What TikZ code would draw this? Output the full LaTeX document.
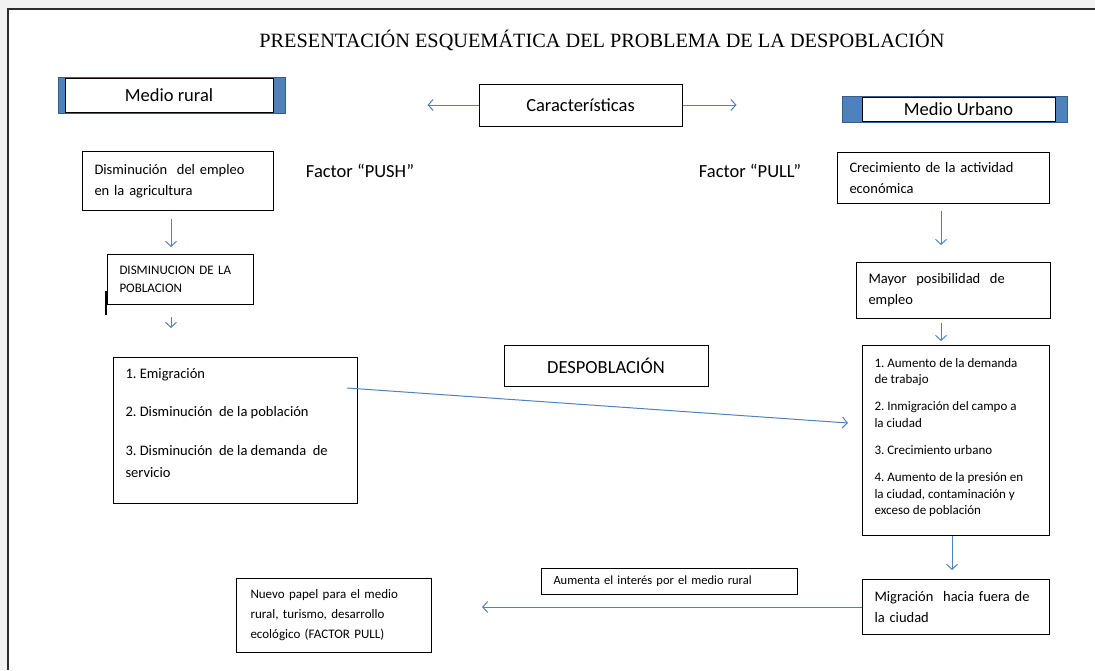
\documentclass[tikz,border=0pt]{standalone}
\usepackage{fontspec}
\setmainfont{Carlito}
\newfontfamily\titlefont{Liberation Serif}
\usetikzlibrary{arrows.meta,calc}
\definecolor{azul}{RGB}{79,129,189}
\definecolor{azulosc}{RGB}{56,93,138}
% Text block held at the top of a tall box
\newcommand{\bloquearriba}[3]{\parbox[t][#1][t]{#2}{\raggedright #3}}
\tikzset{
%Define standard arrow tip
>={Straight Barb[length=5pt,width=11pt]},
%Define style for boxes, texts and arrows
caja/.style={draw, line width=1pt, anchor=north west, align=left, inner xsep=12pt, inner ysep=3pt},
medio/.style={draw, line width=1pt, fill=white, inner sep=0pt, font=\fontsize{18.5}{22}\selectfont},
banda/.style={fill=azul, draw=azulosc, line width=1pt},
grande/.style={font=\fontsize{18.5}{22}\selectfont},
texto/.style={font=\fontsize{14.5}{21}\selectfont},
chico/.style={font=\fontsize{13}{18}\selectfont},
flecha/.style={->, azul, line width=1pt},
}

\begin{document}
\frenchspacing
\begin{tikzpicture}[x=1pt, y=-1pt]
\useasboundingbox (0,0) rectangle (1095,670);
% Draw window frame
\fill[gray!10] (0,0) rectangle (1095,8);
\fill[gray!10] (0,0) rectangle (8,670);
\draw[gray!35!black, line width=2pt] (8,670) -- (8,8.5) -- (1095,8.5);
% Title
\node (titulo) at (602,40) {\titlefont\fontsize{20.3}{24}\selectfont PRESENTACIÓN ESQUEMÁTICA DEL PROBLEMA DE LA DESPOBLACIÓN};
% Headers
\fill[banda] (58,77) rectangle (285,113);
\node[medio, minimum width=208, minimum height=34] (rural) at (169,95) {Medio rural};
\fill[banda] (842,96) rectangle (1067,122);
\node[medio, minimum width=193, minimum height=24] (urbano) at (958.5,109) {Medio Urbano};
\node[caja, grande, anchor=center, minimum width=203, minimum height=42] (carac) at (580.5,105) {Características};
\node[grande] (push) at (360,171) {Factor “PUSH”};
\node[grande] (pull) at (750,171) {Factor “PULL”};
% Rural column
\node[caja, texto, text width=167, minimum width=191, minimum height=59] (emp) at (82,151) {Disminución\ \ del empleo\\en la agricultura};
\node[caja, chico, text width=122, minimum width=146, minimum height=50] (dism) at (107,254) {DISMINUCION DE LA\\POBLACION};
\node[caja, font=\fontsize{14.5}{22}\selectfont, inner ysep=11pt, minimum width=244, minimum height=146] (emig) at (113,357) {\bloquearriba{124pt}{220pt}{1. Emigración\\[16.5pt]2. Disminución\ \ de la población\\[16.5pt]3. Disminución\ \ de la demanda\ \ de\\servicio}};
\node[caja, grande, anchor=center, minimum width=204, minimum height=41] (despo) at (606,365.5) {DESPOBLACIÓN};
% Urban column
\node[caja, texto, text width=188, minimum width=212, minimum height=51] (crec) at (837,152) {Crecimiento de la actividad\\económica};
\node[caja, texto, text width=170, minimum width=194, minimum height=56] (mayor) at (856,262) {Mayor\ \ posibilidad\ \ de\\empleo};
\node[caja, font=\fontsize{13}{16.5}\selectfont, inner ysep=12.5pt, minimum width=187, minimum height=190] (lista) at (862,345) {\bloquearriba{165pt}{163pt}{1. Aumento de la demanda\\de trabajo\\[10.5pt]2. Inmigración del campo a\\la ciudad\\[10.5pt]3. Crecimiento urbano\\[11pt]4. Aumento de la presión en\\la ciudad, contaminación y\\exceso de población}};
\node[caja, texto, text width=163, minimum width=187, minimum height=55] (migra) at (862,579) {Migración\ \ hacia fuera de\\la ciudad};
% Return to the rural side
\node[caja, font=\fontsize{12.5}{16}\selectfont, text width=232, minimum width=256, minimum height=26] (aumenta) at (541,568) {Aumenta el interés por el medio rural};
\node[caja, font=\fontsize{13}{20}\selectfont, inner xsep=14pt, text width=167, minimum width=195, minimum height=74] (nuevo) at (236,578) {Nuevo papel para el medio\\rural, turismo, desarrollo\\ecológico (FACTOR PULL)};
% Columns of the vertical arrows
\coordinate (colA) at (171,0);
\coordinate (colB) at (941,0);
\coordinate (colC) at (952,0);
% Draw arrows
\draw[flecha] (carac.west) -- ++(-51,0);
\draw[flecha] (carac.east) -- ++(54,0);
\draw[flecha, shorten <=8pt, shorten >=7pt] (colA |- emp.south) -- (colA |- dism.north);
\draw[flecha, shorten <=12pt, shorten >=29pt] (colA |- dism.south) -- (colA |- emig.north);
\draw[flecha, shorten <=7pt, shorten >=17pt] (colB |- crec.south) -- (colB |- mayor.north);
\draw[flecha, shorten <=4pt, shorten >=4pt] (colB |- mayor.south) -- (colB |- lista.north);
\draw[flecha, shorten >=9pt] (colC |- lista.south) -- (colC |- migra.north);
\coordinate (emigsal) at ($(emig.north east)+(-11,31)$);
\coordinate (listaent) at ($(lista.north west)+(-14,78)$);
\draw[flecha] (emigsal) -- (listaent);
\draw[flecha, shorten >=50pt] (migra.west) -- (migra.west -| nuevo.east);
% Small stroke left of the second box
\draw[line width=1.5pt] ($(dism.south west)+(-1,-14)$) -- ++(0,24);
\end{tikzpicture}
\end{document}
